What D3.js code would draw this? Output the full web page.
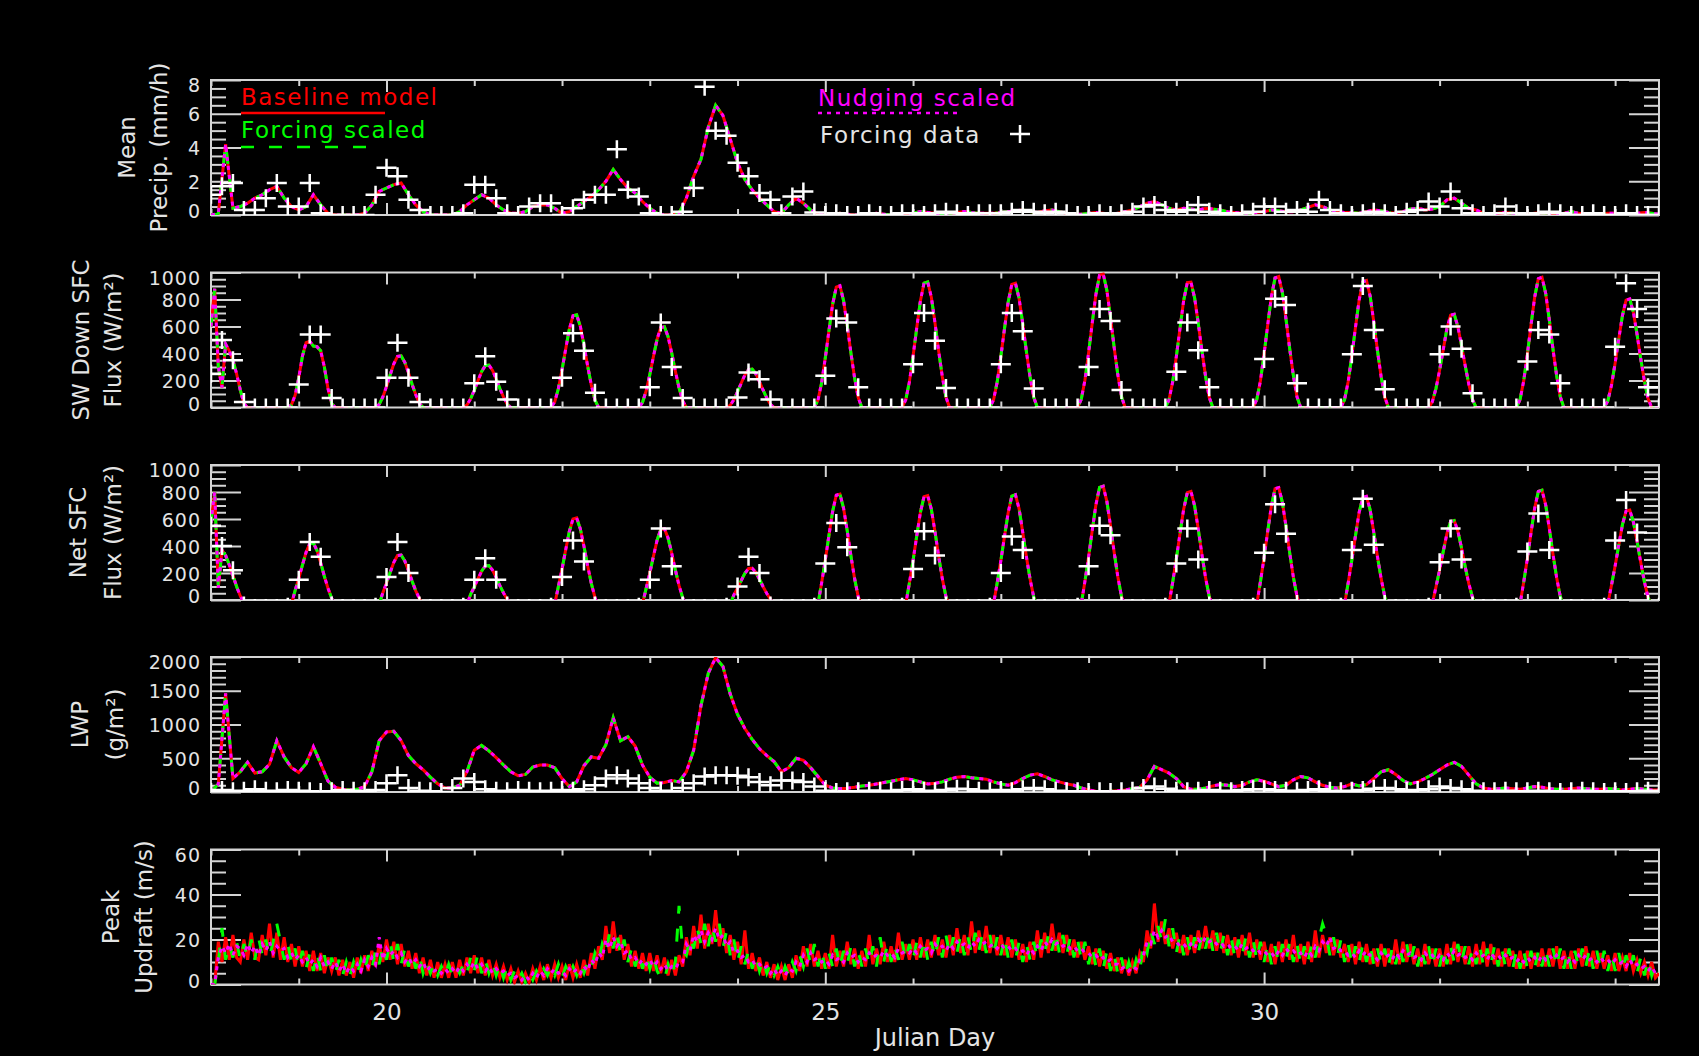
<!DOCTYPE html>
<html>
<head>
<meta charset="utf-8">
<script src="https://cdn.jsdelivr.net/npm/d3@7"></script>
<style>
  html, body { margin: 0; padding: 0; background: #000; }
  svg { display: block; }
  text { font-family: "DejaVu Sans", sans-serif; }
</style>
</head>
<body>
<script>
// -----------------------------
// DATA
// Time axis in Julian days; model output sampled hourly or every 2 h,
// forcing data every 3 h. Values read off the original figure.
// -----------------------------
const dayStart = 18, dayEnd = 34.5;
const hourly = 1 / 24, twoHourly = 1 / 12, threeHourly = 1 / 8;

const xMajorDays = [20, 25, 30];
const xMinorDays = [18, 19, 21, 22, 23, 24, 26, 27, 28, 29, 31, 32, 33, 34];

const seriesNames = ["Baseline model", "Forcing scaled", "Nudging scaled", "Forcing data"];

// Mean precipitation (mm/h), model every 2 h (the three runs coincide here)
const precipModel = [
  0, 0.1, 4.2, 0.4, 0.5, 0.7, 1.0, 1.2, 1.5, 1.7, 1.0, 0.5,
  0.3, 0.5, 1.2, 0.6, 0.1, 0, 0, 0, 0, 0.1, 0.6, 1.4,
  1.6, 1.8, 1.9, 1.2, 0.6, 0.2, 0, 0, 0, 0, 0.2, 0.6,
  0.9, 1.2, 1.0, 0.6, 0.3, 0.1, 0.1, 0.2, 0.5, 0.6, 0.6, 0.4,
  0.1, 0.2, 0.5, 0.8, 1.1, 1.5, 2.0, 2.7, 2.1, 1.6, 1.3, 0.8,
  0.4, 0.1, 0, 0, 0.1, 1.0, 2.3, 3.3, 5.2, 6.5, 5.9, 4.5,
  3.1, 2.1, 1.5, 1.0, 0.6, 0.2, 0.1, 0.6, 1.0, 0.7, 0.3, 0.05,
  0, 0.05, 0.1, 0.05, 0, 0, 0.05, 0.1, 0.05, 0, 0, 0.05,
  0.1, 0.2, 0.15, 0.1, 0.05, 0.1, 0.15, 0.2, 0.15, 0.1, 0.1, 0.1,
  0.15, 0.2, 0.25, 0.3, 0.2, 0.15, 0.25, 0.3, 0.2, 0.1, 0.05, 0.05,
  0.1, 0.15, 0.1, 0.05, 0.1, 0.2, 0.3, 0.5, 0.7, 0.8, 0.6, 0.4,
  0.3, 0.4, 0.35, 0.3, 0.4, 0.35, 0.3, 0.2, 0.15, 0.1, 0.1, 0.15,
  0.2, 0.3, 0.25, 0.2, 0.2, 0.3, 0.45, 0.6, 0.5, 0.3, 0.2, 0.15,
  0.15, 0.1, 0.2, 0.3, 0.25, 0.15, 0.1, 0.2, 0.35, 0.4, 0.3, 0.35,
  0.5, 0.9, 1.0, 0.7, 0.4, 0.3, 0.1, 0.05, 0.1, 0.15, 0.1, 0.05,
  0.05, 0.1, 0.15, 0.1, 0.05, 0.1, 0.2, 0.1, 0.05, 0, 0.05, 0.1,
  0.1, 0.05, 0, 0.1, 0.15, 0.1, 0.05
];
const precipForcing = [
  1.2, 1.7, 1.9, 0.3, 0.3, 1.0, 1.9, 0.5,
  0.5, 1.9, 0.1, 0, 0, 0, 0, 1.2,
  2.8, 2.3, 0.9, 0.3, 0, 0, 0, 0.1,
  1.8, 1.8, 1.0, 0.1, 0, 0.5, 0.7, 0.7,
  0, 0.4, 0.9, 1.2, 1.2, 3.9, 1.5, 1.1,
  0.1, 0, 0, 0.2, 1.6, 7.6, 5.0, 4.7,
  3.1, 2.3, 1.3, 0.9, 0.1, 1.1, 1.4, 0.15,
  0, 0.1, 0, 0, 0.1, 0, 0, 0.1,
  0.1, 0, 0.1, 0.2, 0.1, 0, 0.1, 0.1,
  0.1, 0.2, 0.3, 0.2, 0.1, 0.2, 0.1, 0,
  0, 0.1, 0, 0.1, 0.2, 0.5, 0.6, 0.3,
  0.2, 0.3, 0.6, 0.2, 0.1, 0, 0.1, 0.2,
  0.5, 0.5, 0.2, 0.3, 0.2, 0.9, 0.3, 0.1,
  0, 0.1, 0.2, 0.1, 0, 0.2, 0.3, 0.8,
  0.5, 1.4, 0.4, 0.1, 0, 0.1, 0.5, 0.1,
  0, 0.1, 0.2, 0.1, 0, 0, 0.1, 0,
  0, 0.1, 0, 0, 0
];

// SW down surface flux (W/m2), model hourly
const swModel = [
  600, 880, 300, 150, 470, 420, 350, 250, 130, 30, 0, 0, 0, 0, 0, 0, 0, 0, 0, 0, 0, 0, 20, 90,
  220, 380, 480, 490, 455, 450, 420, 300, 140, 30, 0, 0, 0, 0, 0, 0, 0, 0, 0, 0, 0, 0, 23, 78,
  156, 242, 324, 378, 382, 335, 257, 172, 94, 31, 0, 0, 0, 0, 0, 0, 0, 0, 0, 0, 0, 0, 19, 64,
  128, 198, 266, 310, 314, 275, 211, 141, 77, 26, 0, 0, 0, 0, 0, 0, 0, 0, 0, 0, 0, 0, 42, 140,
  280, 434, 581, 679, 686, 602, 462, 308, 168, 56, 0, 0, 0, 0, 0, 0, 0, 0, 0, 0, 0, 0, 37, 122,
  244, 378, 506, 592, 598, 525, 403, 268, 146, 49, 0, 0, 0, 0, 0, 0, 0, 0, 0, 0, 0, 0, 17, 58,
  116, 180, 241, 281, 284, 249, 191, 128, 70, 23, 0, 0, 0, 0, 0, 0, 0, 0, 0, 0, 0, 0, 55, 184,
  368, 570, 764, 892, 902, 791, 607, 405, 221, 74, 0, 0, 0, 0, 0, 0, 0, 0, 0, 0, 0, 0, 57, 190,
  380, 589, 789, 922, 931, 817, 627, 418, 228, 76, 0, 0, 0, 0, 0, 0, 0, 0, 0, 0, 0, 0, 56, 188,
  376, 583, 780, 912, 921, 808, 620, 414, 226, 75, 0, 0, 0, 0, 0, 0, 0, 0, 0, 0, 0, 0, 61, 202,
  404, 626, 838, 980, 990, 869, 667, 444, 242, 81, 0, 0, 0, 0, 0, 0, 0, 0, 0, 0, 0, 0, 57, 190,
  378, 585, 792, 925, 928, 812, 622, 420, 230, 74, 0, 0, 0, 0, 0, 0, 0, 0, 0, 0, 0, 0, 59, 198,
  396, 614, 822, 960, 970, 851, 653, 436, 238, 79, 0, 0, 0, 0, 0, 0, 0, 0, 0, 0, 0, 0, 58, 192,
  384, 595, 797, 931, 941, 826, 634, 422, 230, 77, 0, 0, 0, 0, 0, 0, 0, 0, 0, 0, 0, 0, 42, 140,
  276, 430, 585, 684, 690, 598, 458, 310, 170, 58, 0, 0, 0, 0, 0, 0, 0, 0, 0, 0, 0, 0, 59, 197,
  394, 611, 818, 955, 965, 847, 650, 433, 236, 79, 0, 0, 0, 0, 0, 0, 0, 0, 0, 0, 0, 0, 49, 164,
  328, 508, 681, 795, 804, 705, 541, 361, 197, 66, 0, 0, 0
];
const swForcing = [
  250, 500, 350, 40, 0, 0, 0, 0,
  170, 540, 540, 70, 0, 0, 0, 0,
  220, 480, 220, 40, 0, 0, 0, 0,
  180, 380, 190, 60, 0, 0, 0, 0,
  220, 550, 420, 110, 0, 0, 0, 0,
  150, 630, 300, 70, 0, 0, 0, 0,
  75, 260, 210, 60, 0, 0, 0, 0,
  235, 660, 630, 150, 0, 0, 0, 0,
  320, 700, 495, 145, 0, 0, 0, 0,
  320, 700, 565, 140, 0, 0, 0, 0,
  300, 730, 640, 130, 0, 0, 0, 0,
  265, 630, 425, 150, 0, 0, 0, 0,
  360, 805, 760, 180, 0, 0, 0, 0,
  395, 900, 575, 135, 0, 0, 0, 0,
  395, 600, 435, 105, 0, 0, 0, 0,
  340, 575, 540, 180, 0, 0, 0, 0,
  450, 920, 730, 150, 0
];

// Net surface flux (W/m2), model hourly
const netModel = [
  570, 800, 90, 370, 330, 260, 180, 100, 30, -20, -50, -50, -50, -50, -50, -50, -50, -50, -50, -50, -50, -50, -30, 69,
  159, 258, 353, 417, 421, 366, 275, 176, 86, 13, -50, -50, -50, -50, -50, -50, -50, -50, -50, -50, -50, -50, -30, 54,
  126, 204, 279, 330, 333, 289, 218, 139, 68, 10, -50, -50, -50, -50, -50, -50, -50, -50, -50, -50, -50, -50, -30, 42,
  96, 156, 213, 252, 255, 221, 166, 107, 52, 8, -50, -50, -50, -50, -50, -50, -50, -50, -50, -50, -50, -50, -30, 99,
  229, 372, 508, 601, 608, 527, 397, 254, 124, 19, -50, -50, -50, -50, -50, -50, -50, -50, -50, -50, -50, -50, -30, 86,
  200, 324, 443, 524, 529, 459, 346, 221, 108, 16, -50, -50, -50, -50, -50, -50, -50, -50, -50, -50, -50, -50, -30, 38,
  89, 144, 197, 233, 235, 204, 154, 98, 48, 7, -50, -50, -50, -50, -50, -50, -50, -50, -50, -50, -50, -50, -30, 128,
  296, 480, 656, 776, 784, 680, 512, 328, 160, 24, -50, -50, -50, -50, -50, -50, -50, -50, -50, -50, -50, -50, -30, 126,
  292, 474, 648, 766, 774, 672, 506, 324, 158, 24, -50, -50, -50, -50, -50, -50, -50, -50, -50, -50, -50, -50, -30, 126,
  290, 470, 645, 770, 780, 675, 500, 320, 155, 22, -50, -50, -50, -50, -50, -50, -50, -50, -50, -50, -50, -50, -30, 138,
  318, 516, 705, 834, 843, 731, 550, 353, 172, 26, -50, -50, -50, -50, -50, -50, -50, -50, -50, -50, -50, -50, -30, 131,
  303, 492, 672, 795, 804, 697, 525, 336, 164, 25, -50, -50, -50, -50, -50, -50, -50, -50, -50, -50, -50, -50, -30, 136,
  315, 510, 697, 825, 833, 723, 544, 349, 170, 26, -50, -50, -50, -50, -50, -50, -50, -50, -50, -50, -50, -50, -30, 126,
  296, 478, 650, 760, 768, 668, 500, 322, 160, 24, -50, -50, -50, -50, -50, -50, -50, -50, -50, -50, -50, -50, -30, 96,
  222, 360, 492, 582, 588, 510, 384, 246, 120, 18, -50, -50, -50, -50, -50, -50, -50, -50, -50, -50, -50, -50, -30, 133,
  307, 498, 681, 805, 813, 706, 531, 340, 166, 25, -50, -50, -50, -50, -50, -50, -50, -50, -50, -50, -50, -50, -30, 109,
  252, 408, 558, 660, 666, 578, 435, 279, 136, 20, -40, -50, -50
];
const netForcing = [
  550, 400, 220, -40, -60, -60, -60, -50,
  150, 430, 320, -40, -60, -60, -60, -50,
  170, 430, 200, -40, -60, -60, -60, -50,
  150, 310, 150, -40, -60, -60, -60, -50,
  170, 440, 285, -40, -60, -60, -60, -50,
  150, 530, 250, -40, -60, -60, -60, -50,
  100, 320, 200, -40, -60, -60, -60, -50,
  270, 570, 390, -40, -60, -60, -60, -50,
  230, 510, 330, -40, -60, -60, -60, -50,
  200, 470, 370, -40, -60, -60, -60, -50,
  250, 550, 480, -40, -60, -60, -60, -50,
  270, 530, 300, -40, -60, -60, -60, -50,
  350, 710, 490, -30, -60, -60, -60, -50,
  370, 750, 410, -30, -60, -60, -60, -50,
  280, 530, 300, -40, -60, -60, -60, -50,
  360, 640, 370, -40, -60, -60, -60, -50,
  440, 740, 500, -30, -50
];

// Liquid water path (g/m2), model every 2 h
const lwpModel = [
  0, 120, 1460, 200, 300, 440, 280, 300, 410, 760, 520, 360,
  290, 420, 670, 420, 160, 70, 40, 30, 40, 80, 300, 760,
  890, 900, 760, 540, 420, 330, 220, 120, 60, 60, 100, 300,
  620, 690, 610, 510, 400, 300, 240, 260, 370, 400, 400, 360,
  200, 80, 150, 390, 520, 500, 700, 1100, 760, 820, 680, 400,
  220, 130, 140, 170, 150, 300, 620, 1280, 1760, 1990, 1860, 1450,
  1150, 940, 780, 640, 540, 450, 300, 360, 500, 470, 360, 230,
  100, 60, 50, 55, 70, 90, 100, 120, 140, 160, 180, 200,
  180, 150, 120, 130, 150, 190, 220, 230, 210, 200, 190, 150,
  120, 100, 140, 200, 250, 270, 230, 180, 150, 120, 100, 60,
  30, 10, 5, 10, 20, 30, 50, 70, 180, 380, 330, 280,
  200, 80, 40, 40, 60, 90, 110, 100, 80, 100, 150, 180,
  160, 120, 80, 100, 180, 230, 210, 150, 100, 70, 60, 80,
  120, 90, 110, 200, 300, 330, 260, 170, 120, 150, 200, 260,
  330, 400, 440, 380, 250, 120, 60, 40, 50, 60, 50, 40,
  60, 80, 70, 50, 40, 40, 50, 60, 50, 40, 40, 50,
  40, 30, 40, 50, 40, 30, 30
];
const lwpForcing = [
  0, 30, 10, 20, 40, 20, 10, 30,
  20, 10, 0, 10, 30, 20, 10, 30,
  130, 250, 60, 20, 10, 0, 60, 200,
  150, 40, 20, 10, 30, 20, 10, 20,
  30, 20, 40, 100, 200, 250, 200, 130,
  60, 20, 10, 60, 130, 230, 250, 250,
  240, 220, 150, 100, 170, 170, 150, 80,
  20, 0, 10, 10, 20, 20, 10, 30,
  40, 20, 10, 30, 50, 40, 20, 10,
  30, 10, 40, 60, 40, 20, 10, 10,
  0, 10, 0, 10, 20, 60, 80, 50,
  20, 10, 20, 30, 20, 10, 30, 40,
  40, 30, 20, 10, 30, 40, 20, 10,
  20, 30, 50, 60, 40, 20, 30, 40,
  80, 60, 40, 20, 10, 10, 20, 10,
  10, 20, 10, 0, 10, 20, 10, 0,
  10, 0, 10, 20, 10
];

// Peak updraft (m/s), hourly, one array per run
const updraftBaseline = [
  0, 0, 19, 10, 21, 11, 22, 12, 10, 20, 11, 23, 12, 11, 22, 13, 27, 12, 23, 11, 21, 10, 18, 8,
  17, 8, 15, 6, 15, 6, 14, 5, 12, 6, 12, 4, 11, 4, 10, 3, 12, 5, 13, 6, 15, 8, 18, 10,
  20, 11, 19, 9, 18, 8, 15, 7, 14, 5, 12, 4, 11, 3, 10, 3, 9, 3, 10, 3, 11, 4, 12, 5,
  13, 5, 12, 4, 11, 4, 9, 3, 8, 2, 7, 1, 6, 1, 5, 1, 7, 2, 8, 2, 9, 3, 9, 3,
  8, 2, 9, 3, 9, 3, 11, 4, 14, 7, 17, 11, 26, 14, 28, 15, 22, 11, 18, 8, 15, 7, 14, 6,
  14, 6, 13, 5, 12, 4, 11, 4, 13, 8, 21, 13, 26, 16, 31, 16, 27, 18, 33, 17, 25, 14, 22, 11,
  19, 9, 24, 7, 14, 6, 12, 4, 10, 3, 9, 2, 8, 2, 9, 3, 13, 6, 17, 8, 18, 8, 15, 7,
  14, 7, 22, 8, 15, 8, 19, 9, 16, 7, 15, 8, 22, 9, 16, 9, 19, 10, 17, 10, 23, 11, 18, 11,
  20, 11, 21, 12, 20, 12, 22, 13, 20, 12, 22, 13, 25, 14, 22, 13, 28, 14, 24, 15, 26, 14, 22, 13,
  22, 13, 21, 12, 20, 11, 18, 10, 19, 11, 24, 12, 23, 14, 27, 15, 23, 14, 22, 13, 20, 12, 19, 11,
  17, 9, 16, 8, 15, 7, 14, 6, 12, 5, 11, 4, 10, 5, 14, 10, 24, 16, 36, 19, 28, 18, 25, 16,
  23, 14, 22, 13, 22, 14, 24, 16, 26, 16, 24, 15, 23, 14, 22, 13, 21, 12, 22, 13, 23, 12, 20, 11,
  19, 10, 18, 9, 19, 10, 20, 11, 22, 10, 18, 9, 19, 10, 24, 12, 22, 14, 21, 13, 20, 12, 18, 10,
  18, 9, 19, 10, 18, 9, 16, 8, 18, 8, 16, 9, 20, 9, 19, 10, 18, 9, 16, 8, 18, 9, 16, 8,
  16, 8, 18, 9, 19, 10, 17, 9, 17, 8, 18, 9, 19, 8, 18, 9, 16, 8, 16, 8, 15, 7, 15, 7,
  15, 7, 14, 8, 16, 8, 16, 8, 17, 7, 15, 7, 15, 7, 16, 8, 17, 8, 15, 7, 14, 7, 13, 6,
  14, 6, 12, 6, 14, 6, 11, 5, 10, 4, 10, 3, 5
];
const updraftForcingScaled = [
  0, 0, 10, 25, 11, 18, 12, 19, 11, 18, 12, 20, 11, 21, 13, 20, 12, 19, 27, 19, 11, 18, 10, 16,
  8, 15, 7, 14, 6, 14, 6, 13, 5, 12, 5, 11, 4, 10, 4, 10, 5, 11, 6, 13, 7, 15, 9, 17,
  11, 19, 10, 18, 9, 16, 8, 14, 7, 13, 5, 10, 5, 9, 4, 8, 4, 9, 4, 8, 5, 9, 5, 12,
  6, 14, 5, 11, 5, 10, 4, 9, 3, 8, 2, 6, 2, 5, 1, 5, 2, 6, 3, 7, 4, 8, 4, 9,
  3, 8, 4, 8, 4, 9, 5, 10, 7, 14, 10, 18, 14, 23, 16, 24, 13, 20, 10, 16, 8, 14, 7, 13,
  7, 13, 6, 3, 2, 9, 4, 10, 35, 15, 13, 21, 16, 25, 18, 27, 17, 26, 19, 27, 16, 24, 13, 20,
  10, 17, 9, 15, 7, 13, 6, 11, 5, 9, 4, 8, 3, 8, 4, 10, 6, 13, 8, 16, 9, 18, 8, 15,
  7, 14, 8, 16, 8, 15, 9, 17, 8, 15, 8, 16, 9, 17, 8, 21, 10, 18, 10, 17, 11, 19, 11, 18,
  11, 19, 12, 20, 11, 19, 12, 21, 12, 22, 13, 21, 14, 22, 13, 21, 14, 23, 15, 23, 14, 22, 13, 21,
  13, 21, 12, 20, 11, 19, 10, 18, 11, 19, 12, 20, 14, 22, 15, 23, 14, 22, 13, 21, 12, 20, 11, 19,
  9, 17, 8, 16, 7, 15, 6, 13, 5, 12, 4, 10, 4, 11, 6, 18, 14, 24, 18, 26, 19, 29, 17, 25,
  14, 22, 13, 21, 13, 21, 14, 22, 16, 24, 15, 23, 14, 22, 13, 21, 12, 20, 13, 21, 12, 20, 11, 19,
  10, 18, 9, 17, 10, 18, 11, 19, 10, 18, 9, 17, 10, 18, 12, 20, 27, 22, 13, 21, 12, 20, 10, 18,
  9, 17, 10, 18, 10, 17, 9, 16, 9, 16, 8, 16, 9, 17, 10, 18, 9, 17, 8, 16, 9, 17, 8, 16,
  8, 16, 9, 17, 10, 18, 10, 17, 9, 16, 9, 17, 8, 16, 9, 17, 8, 16, 8, 16, 7, 15, 7, 15,
  7, 15, 7, 15, 8, 16, 8, 16, 8, 16, 7, 15, 7, 15, 8, 16, 8, 16, 7, 15, 7, 15, 6, 14,
  6, 14, 6, 13, 7, 13, 5, 12, 4, 11, 4, 9, 6
];
const updraftNudgingScaled = [
  0, 0, 12, 17, 14, 18, 13, 17, 16, 13, 18, 14, 17, 13, 18, 15, 19, 14, 17, 15, 16, 12, 14, 11,
  13, 10, 12, 9, 11, 8, 12, 8, 10, 7, 10, 6, 9, 5, 8, 6, 9, 6, 11, 8, 12, 9, 21, 11,
  16, 13, 15, 12, 14, 10, 12, 9, 11, 8, 10, 6, 8, 6, 7, 5, 7, 5, 7, 5, 8, 6, 9, 7,
  10, 7, 9, 6, 8, 5, 7, 5, 6, 4, 5, 3, 4, 2, 4, 2, 5, 3, 6, 4, 7, 5, 7, 5,
  6, 4, 7, 5, 7, 5, 8, 6, 11, 9, 14, 12, 20, 16, 21, 17, 19, 14, 15, 11, 12, 9, 11, 9,
  11, 8, 10, 7, 9, 6, 8, 7, 10, 10, 18, 15, 22, 19, 24, 19, 23, 20, 25, 20, 22, 17, 19, 14,
  15, 12, 13, 10, 11, 8, 9, 7, 8, 5, 7, 4, 6, 4, 7, 6, 10, 8, 13, 10, 14, 11, 12, 10,
  11, 9, 13, 11, 12, 10, 14, 12, 13, 10, 12, 11, 14, 12, 13, 12, 15, 13, 14, 12, 16, 14, 15, 14,
  16, 14, 17, 15, 16, 14, 18, 16, 17, 15, 18, 16, 19, 17, 18, 16, 19, 17, 20, 18, 19, 17, 18, 16,
  18, 16, 17, 15, 16, 14, 15, 13, 16, 14, 17, 15, 19, 17, 20, 18, 19, 17, 18, 16, 17, 15, 16, 14,
  14, 12, 13, 11, 12, 10, 11, 9, 9, 7, 8, 6, 8, 7, 11, 13, 19, 18, 24, 21, 24, 21, 22, 19,
  19, 17, 18, 16, 18, 16, 20, 18, 21, 19, 20, 18, 19, 17, 18, 16, 17, 15, 18, 16, 17, 15, 16, 14,
  15, 13, 14, 12, 15, 13, 16, 14, 15, 13, 14, 12, 15, 13, 17, 15, 19, 17, 21, 16, 17, 15, 15, 13,
  14, 12, 15, 13, 15, 13, 13, 11, 14, 12, 13, 11, 14, 12, 15, 13, 14, 12, 13, 11, 14, 12, 13, 11,
  13, 11, 14, 12, 15, 13, 14, 12, 13, 11, 14, 12, 13, 11, 14, 12, 13, 11, 13, 11, 12, 10, 12, 10,
  12, 10, 12, 10, 13, 11, 13, 11, 13, 11, 12, 10, 12, 10, 13, 11, 13, 11, 12, 10, 12, 10, 11, 9,
  11, 9, 10, 8, 11, 8, 9, 7, 8, 6, 8, 5, 5
];

// -----------------------------
// LAYOUT + STYLE
// -----------------------------
const W = 1699, H = 1056;
const plotLeft = 211, plotRight = 1659;
const panelTops = [80, 272.5, 465, 657, 849.5];
const panelH = 135;
const axisColor = "#d4d4d4";
const textColor = "#e4e4e4";
const runColors = ["#ff0000", "#00ff00", "#ff00ff"];
const runDash = [null, "13,15", "4,5"];

const panels = [
  { title: ["Mean", "Precip. (mm/h)"], titleX: [127, 159], yMax: 8, major: 2, minor: 0.5,
    runs: [precipModel, precipModel, precipModel], step: twoHourly, forcing: precipForcing },
  { title: ["SW Down SFC", "Flux (W/m²)"], titleX: [81, 113], yMax: 1000, major: 200, minor: 50,
    runs: [swModel, swModel, swModel], step: hourly, forcing: swForcing },
  { title: ["Net SFC", "Flux (W/m²)"], titleX: [78, 113], yMax: 1000, major: 200, minor: 50,
    runs: [netModel, netModel, netModel], step: hourly, forcing: netForcing },
  { title: ["LWP", "(g/m²)"], titleX: [80, 115], yMax: 2000, major: 500, minor: 100,
    runs: [lwpModel, lwpModel, lwpModel], step: twoHourly, forcing: lwpForcing },
  { title: ["Peak", "Updraft (m/s)"], titleX: [111, 144], yMax: 60, major: 20, minor: 5,
    runs: [updraftBaseline, updraftForcingScaled, updraftNudgingScaled], step: hourly, forcing: null }
];

const svg = d3.select("body").append("svg")
  .attr("width", W)
  .attr("height", H);

svg.append("rect").attr("width", W).attr("height", H).attr("fill", "#000");

const x = d3.scaleLinear().domain([dayStart, dayEnd]).range([plotLeft, plotRight]);

const toPoints = (values, step) => values.map((v, k) => ({ t: dayStart + k * step, v }));

function styleAxis(sel) {
  sel.select(".domain").remove();
  sel.attr("color", axisColor);
  sel.selectAll(".tick line").attr("stroke-width", 2);
  sel.selectAll(".tick text").style("fill", textColor);
}

panels.forEach((p, i) => {
  const top = panelTops[i];
  const bottom = top + panelH;
  const y = d3.scaleLinear().domain([0, p.yMax]).range([bottom, top]);
  const g = svg.append("g").attr("class", "panel");

  const yMajor = d3.range(0, p.yMax + p.minor / 2, p.major);
  const yMinor = d3.range(0, p.yMax + p.minor / 2, p.minor)
    .filter(v => Math.abs(v / p.major - Math.round(v / p.major)) > 1e-6);

  // -----------------------------
  // AXES (ticks point inward on all four sides)
  // -----------------------------
  const xAxis = g.append("g").attr("transform", `translate(0,${bottom})`)
    .call(d3.axisBottom(x).tickValues(xMajorDays).tickSizeInner(-12).tickSizeOuter(0)
      .tickPadding(19).tickFormat(i === panels.length - 1 ? d3.format("d") : ""))
    .call(styleAxis);
  xAxis.selectAll(".tick text").style("font-size", "23px");
  g.append("g").attr("transform", `translate(0,${bottom})`)
    .call(d3.axisBottom(x).tickValues(xMinorDays).tickSizeInner(-6).tickSizeOuter(0).tickFormat(""))
    .call(styleAxis);
  g.append("g").attr("transform", `translate(0,${top})`)
    .call(d3.axisTop(x).tickValues(xMajorDays).tickSizeInner(-12).tickSizeOuter(0).tickFormat(""))
    .call(styleAxis);
  g.append("g").attr("transform", `translate(0,${top})`)
    .call(d3.axisTop(x).tickValues(xMinorDays).tickSizeInner(-6).tickSizeOuter(0).tickFormat(""))
    .call(styleAxis);

  const left = g.append("g").attr("transform", `translate(${plotLeft},0)`)
    .call(d3.axisLeft(y).tickValues(yMajor).tickSizeInner(-30).tickSizeOuter(0)
      .tickPadding(10).tickFormat(d3.format("d")))
    .call(styleAxis);
  // IDL keeps the end labels inside the axis box
  left.selectAll(".tick text")
    .style("font-size", "19px")
    .style("letter-spacing", "1px")
    .attr("y", d => d === p.yMax ? 5.5 : d === 0 ? -3.5 : 1);
  g.append("g").attr("transform", `translate(${plotLeft},0)`)
    .call(d3.axisLeft(y).tickValues(yMinor).tickSizeInner(-15).tickSizeOuter(0).tickFormat(""))
    .call(styleAxis);
  g.append("g").attr("transform", `translate(${plotRight},0)`)
    .call(d3.axisRight(y).tickValues(yMajor).tickSizeInner(-30).tickSizeOuter(0).tickFormat(""))
    .call(styleAxis);
  g.append("g").attr("transform", `translate(${plotRight},0)`)
    .call(d3.axisRight(y).tickValues(yMinor).tickSizeInner(-15).tickSizeOuter(0).tickFormat(""))
    .call(styleAxis);

  g.append("rect")
    .attr("x", plotLeft).attr("y", top)
    .attr("width", plotRight - plotLeft).attr("height", panelH)
    .attr("fill", "none").attr("stroke", axisColor).attr("stroke-width", 2);

  // Y-axis title, two rotated lines
  p.title.forEach((line, j) => {
    g.append("text")
      .attr("transform", `translate(${p.titleX[j]},${top + panelH / 2}) rotate(-90)`)
      .attr("text-anchor", "middle")
      .attr("dominant-baseline", "central")
      .style("fill", textColor)
      .style("font-size", "23px")
      .text(line);
  });

  // -----------------------------
  // DATA (clipped to the plot box)
  // -----------------------------
  svg.append("clipPath").attr("id", `clip${i}`)
    .append("rect")
    .attr("x", plotLeft).attr("y", top)
    .attr("width", plotRight - plotLeft).attr("height", panelH);

  const plot = g.append("g").attr("clip-path", `url(#clip${i})`);

  const line = d3.line().x(d => x(d.t)).y(d => y(d.v));

  p.runs.forEach((values, r) => {
    plot.append("path")
      .datum(toPoints(values, p.step))
      .attr("d", line)
      .attr("fill", "none")
      .attr("stroke", runColors[r])
      .attr("stroke-width", 3)
      .attr("stroke-dasharray", runDash[r]);
  });

  if (p.forcing) {
    plot.selectAll(".plus")
      .data(toPoints(p.forcing, threeHourly))
      .join("path")
      .attr("class", "plus")
      .attr("transform", d => `translate(${x(d.t)},${y(d.v)})`)
      .attr("d", "M-10,0H10M0,-9V9")
      .attr("stroke", "#fff")
      .attr("stroke-width", 2.5);
  }
});

// X-axis title
svg.append("text")
  .attr("x", (plotLeft + plotRight) / 2)
  .attr("y", 1046)
  .attr("text-anchor", "middle")
  .style("fill", textColor)
  .style("font-size", "24px")
  .text("Julian Day");

// -----------------------------
// LEGEND (inside the top panel)
// -----------------------------
const legend = svg.append("g").attr("class", "legend");
const legendItems = [
  { x: 241, y: 105, lineY: 113, lineEnd: 385, color: runColors[0], dash: runDash[0] },
  { x: 241, y: 138, lineY: 147, lineEnd: 372, color: runColors[1], dash: runDash[1] },
  { x: 818, y: 106, lineY: 113, lineEnd: 960, color: runColors[2], dash: runDash[2] }
];
legendItems.forEach((it, k) => {
  legend.append("text")
    .attr("x", it.x).attr("y", it.y)
    .style("fill", it.color)
    .style("font-size", "23px")
    .style("letter-spacing", "1.5px")
    .text(seriesNames[k]);
  legend.append("line")
    .attr("x1", it.x).attr("x2", it.lineEnd)
    .attr("y1", it.lineY).attr("y2", it.lineY)
    .attr("stroke", it.color)
    .attr("stroke-width", 2.5)
    .attr("stroke-dasharray", it.dash);
});
legend.append("text")
  .attr("x", 820).attr("y", 143)
  .style("fill", textColor)
  .style("font-size", "23px")
  .style("letter-spacing", "1.5px")
  .text(seriesNames[3]);
legend.append("path")
  .attr("transform", "translate(1020,134)")
  .attr("d", "M-10,0H10M0,-9V9")
  .attr("stroke", "#fff")
  .attr("stroke-width", 2.5);
</script>
</body>
</html>
